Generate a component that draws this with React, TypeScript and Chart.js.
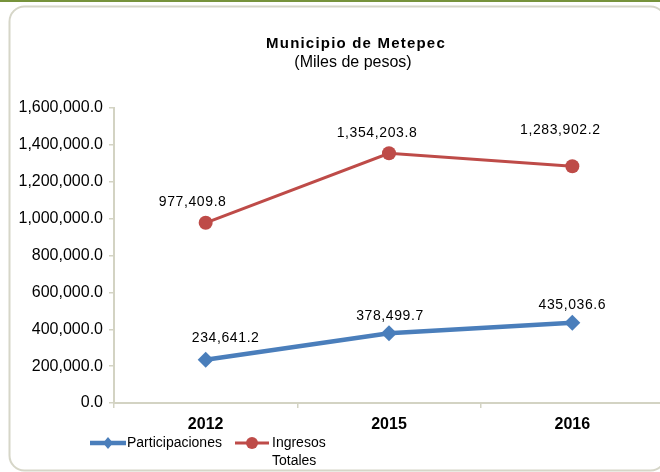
import React, { useEffect, useRef } from "react";
import { Chart, registerables } from "chart.js";

Chart.register(...registerables);

const categories = ["2012", "2015", "2016"];
const participaciones = [234641.2, 378499.7, 435036.6];
const ingresosTotales = [977409.8, 1354203.8, 1283902.2];
const yTicks = [0, 200000, 400000, 600000, 800000, 1000000, 1200000, 1400000, 1600000];
const titleText = "Municipio de Metepec";
const subtitleText = "(Miles de pesos)";
const legendLabels = [["Participaciones"], ["Ingresos", "Totales"]];

const BLUE = "#4A7EBB";
const RED = "#BE4B48";
const AXIS = "#D3D3C3";
const FONT = "'Liberation Sans', Arial, sans-serif";

const fmt = (v: number) =>
  v.toLocaleString("en-US", { minimumFractionDigits: 1, maximumFractionDigits: 1 });

const labelOffsets: Record<number, [number, number][]> = {
  0: [[20, -22], [1, -17], [0, -18]],
  1: [[-13, -21], [-12, -20], [-12, -36]],
};

const framePlugin = {
  id: "frame",
  beforeDraw(chart: any) {
    const ctx = chart.ctx;
    ctx.save();
    ctx.fillStyle = "#ffffff";
    ctx.fillRect(0, 0, chart.width, chart.height);
    ctx.fillStyle = "#77933C";
    ctx.fillRect(0, 0, chart.width, 2);
    ctx.strokeStyle = "#D6D6C8";
    ctx.lineWidth = 2;
    ctx.beginPath();
    ctx.roundRect(9.5, 6.5, 656, 464, 15);
    ctx.stroke();
    ctx.fillStyle = "#000";
    ctx.textAlign = "center";
    ctx.textBaseline = "middle";
    ctx.font = `bold 15px ${FONT}`;
    (ctx as any).letterSpacing = "1.2px";
    ctx.fillText(titleText, 356, 44);
    (ctx as any).letterSpacing = "0px";
    ctx.font = `16px ${FONT}`;
    ctx.fillText(subtitleText, 353, 63);
    ctx.restore();
  },
};

const labelPlugin = {
  id: "valueLabels",
  afterDatasetsDraw(chart: any) {
    const ctx = chart.ctx;
    ctx.save();
    ctx.font = `14px ${FONT}`;
    (ctx as any).letterSpacing = "0.6px";
    ctx.fillStyle = "#000";
    ctx.textAlign = "center";
    ctx.textBaseline = "middle";
    chart.data.datasets.forEach((ds: any, di: number) => {
      const meta = chart.getDatasetMeta(di);
      meta.data.forEach((pt: any, i: number) => {
        const off = labelOffsets[di][i];
        ctx.fillText(fmt(ds.data[i]), pt.x + off[0], pt.y + off[1]);
      });
    });
    (ctx as any).letterSpacing = "0px";
    ctx.restore();
  },
};

const legendPlugin = {
  id: "customLegend",
  afterDraw(chart: any) {
    const ctx = chart.ctx;
    ctx.save();
    ctx.textAlign = "left";
    ctx.textBaseline = "middle";
    ctx.font = `14px ${FONT}`;
    const items = [
      { x0: 90, x1: 126, color: BLUE, width: 4.5, marker: "diamond", tx: 127 },
      { x0: 235, x1: 269, color: RED, width: 3, marker: "circle", tx: 272 },
    ];
    const y = 443;
    items.forEach((it, idx) => {
      ctx.strokeStyle = it.color;
      ctx.lineWidth = it.width;
      ctx.beginPath();
      ctx.moveTo(it.x0, y);
      ctx.lineTo(it.x1, y);
      ctx.stroke();
      const cx = (it.x0 + it.x1) / 2;
      ctx.fillStyle = it.color;
      ctx.beginPath();
      if (it.marker === "diamond") {
        ctx.moveTo(cx, y - 6);
        ctx.lineTo(cx + 5, y);
        ctx.lineTo(cx, y + 6);
        ctx.lineTo(cx - 5, y);
        ctx.closePath();
      } else {
        ctx.arc(cx, y, 6, 0, Math.PI * 2);
      }
      ctx.fill();
      ctx.fillStyle = "#000";
      legendLabels[idx].forEach((line, li) => {
        ctx.fillText(line, it.tx, y + li * 18);
      });
    });
    ctx.restore();
  },
};

export default function App() {
  const ref = useRef<HTMLCanvasElement>(null);
  useEffect(() => {
    if (!ref.current) return;
    const chart = new Chart(ref.current, {
      type: "line",
      data: {
        labels: categories,
        datasets: [
          {
            label: legendLabels[0].join(" "),
            data: participaciones,
            borderColor: BLUE,
            backgroundColor: BLUE,
            borderWidth: 4.5,
            pointStyle: "rectRot",
            pointRadius: 8,
            pointBorderWidth: 0,
            pointBackgroundColor: BLUE,
            tension: 0,
          },
          {
            label: legendLabels[1].join(" "),
            data: ingresosTotales,
            borderColor: RED,
            backgroundColor: RED,
            borderWidth: 3,
            pointStyle: "circle",
            pointRadius: 7,
            pointBorderWidth: 0,
            pointBackgroundColor: RED,
            tension: 0,
          },
        ],
      },
      options: {
        responsive: false,
        animation: false,
        layout: { padding: { top: 108, right: 16, left: 0, bottom: 0 } },
        plugins: {
          legend: { display: false },
          title: { display: false },
          tooltip: { enabled: false },
        },
        scales: {
          x: {
            offset: true,
            grid: {
              offset: true,
              drawOnChartArea: false,
              color: AXIS,
              tickLength: 5,
              tickColor: AXIS,
              lineWidth: 1.5,
            },
            border: { color: AXIS, width: 2 },
            ticks: {
              color: "#000",
              font: { family: FONT, size: 16, weight: "bold" },
              padding: 7,
            },
            afterFit: (s: any) => {
              s.height = 69;
            },
          },
          y: {
            min: 0,
            max: 1600000,
            afterBuildTicks: (s: any) => {
              s.ticks = yTicks.map((v) => ({ value: v }));
            },
            grid: {
              drawOnChartArea: false,
              color: AXIS,
              tickLength: 5,
              tickColor: AXIS,
              lineWidth: 1.5,
            },
            border: { color: AXIS, width: 2 },
            ticks: {
              color: "#000",
              font: { family: FONT, size: 16 },
              padding: 6,
              callback: (v: any) => fmt(Number(v)),
            },
            afterFit: (s: any) => {
              s.width = 114;
            },
          },
        },
      },
      plugins: [framePlugin, labelPlugin, legendPlugin],
    });
    return () => chart.destroy();
  }, []);

  return (
    <div
      style={{
        position: "fixed",
        left: 0,
        top: 0,
        width: 660,
        height: 472,
        overflow: "hidden",
        background: "#fff",
      }}
    >
      <canvas
        ref={ref}
        width={680}
        height={472}
        style={{ display: "block", width: 680, height: 472 }}
      />
    </div>
  );
}
